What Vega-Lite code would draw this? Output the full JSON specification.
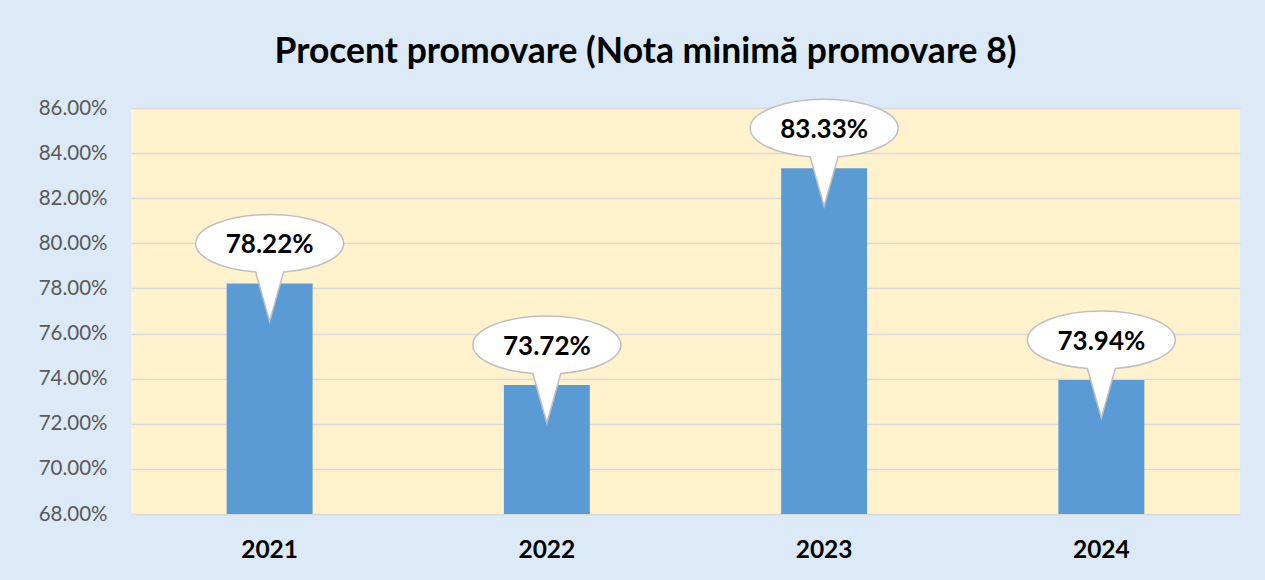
{
  "$schema": "https://vega.github.io/schema/vega-lite/v6.json",
  "width": 1109,
  "height": 406,
  "autosize": {"type": "none"},
  "padding": {"left": 131, "top": 108, "right": 25, "bottom": 66},
  "background": "#dce9f6",
  "title": {
    "text": "Procent promovare (Nota minimă promovare 8)",
    "font": "Lato",
    "fontSize": 35.5,
    "fontWeight": "bold",
    "color": "#000000",
    "anchor": "middle",
    "offset": 26,
    "dx": -40
  },
  "data": {
    "values": [
      {"year": "2021", "value": 0.7822},
      {"year": "2022", "value": 0.7372},
      {"year": "2023", "value": 0.8333},
      {"year": "2024", "value": 0.7394}
    ]
  },
  "encoding": {
    "x": {
      "field": "year",
      "type": "nominal",
      "sort": null,
      "scale": {"paddingInner": 0.69, "paddingOuter": 0.345},
      "axis": {
        "title": null,
        "labelAngle": 0,
        "labelFont": "Lato",
        "labelFontSize": 24.5,
        "labelFontWeight": "bold",
        "labelColor": "#000000",
        "labelPadding": 24,
        "domain": false,
        "ticks": false,
        "grid": false
      }
    },
    "y": {
      "field": "value",
      "type": "quantitative",
      "scale": {"domain": [0.68, 0.86], "nice": false, "zero": false},
      "axis": {
        "title": null,
        "values": [0.68, 0.70, 0.72, 0.74, 0.76, 0.78, 0.80, 0.82, 0.84, 0.86],
        "format": ".2%",
        "labelFont": "Lato",
        "labelFontSize": 20.5,
        "labelColor": "#595959",
        "labelPadding": 24,
        "grid": true,
        "gridColor": "#d9d9d9",
        "gridWidth": 1.5,
        "domain": false,
        "ticks": false
      }
    }
  },
  "layer": [
    {
      "mark": {"type": "bar", "color": "#5b9bd5"},
      "encoding": {"y2": {"datum": 0.68}}
    },
    {
      "mark": {
        "type": "point",
        "shape": "M -0.14 -0.115 L 0 0.38 L 0.14 -0.115 C 0.4885 -0.1413 0.74 -0.261 0.74 -0.4 C 0.74 -0.56 0.4087 -0.69 0 -0.69 C -0.4087 -0.69 -0.74 -0.56 -0.74 -0.4 C -0.74 -0.261 -0.4885 -0.1413 -0.14 -0.115 Z",
        "size": 40000,
        "filled": true,
        "fill": "#ffffff",
        "fillOpacity": 1,
        "opacity": 1,
        "stroke": "#bfbfbf",
        "strokeWidth": 1.5
      }
    },
    {
      "mark": {
        "type": "text",
        "dy": -38,
        "baseline": "middle",
        "align": "center",
        "font": "Lato",
        "fontSize": 26,
        "fontWeight": "bold",
        "color": "#000000"
      },
      "encoding": {"text": {"field": "value", "type": "quantitative", "format": ".2%"}}
    }
  ],
  "config": {
    "view": {"fill": "#fff2cc", "stroke": null},
    "font": "Lato"
  }
}
